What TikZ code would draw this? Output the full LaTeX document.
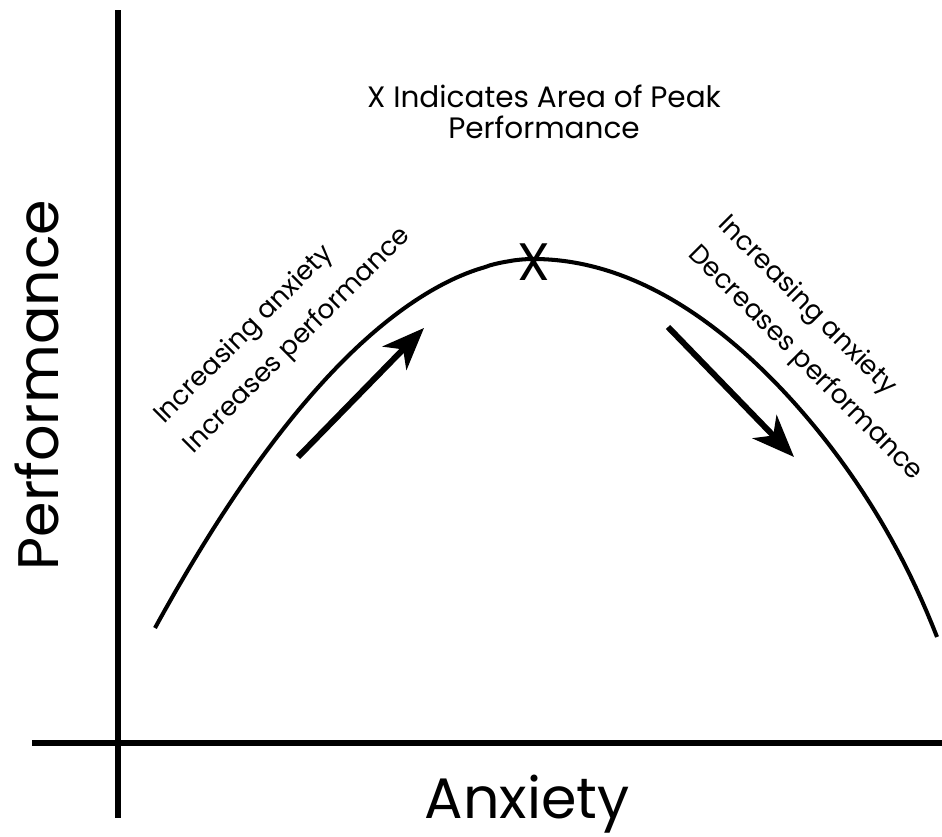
\documentclass[tikz,border=0pt]{standalone}
\usepackage{fontspec}
\setmainfont{Poppins}
\usetikzlibrary{arrows.meta,positioning}
\tikzset{
  axis/.style      = {line width=3.1pt},
  curve/.style     = {line width=2.3pt},
  trend/.style     = {->, line width=3.4pt},
  slope/.style     = {font=\fontsize{15}{23.8}\selectfont, align=left, inner sep=0pt},
  heading/.style   = {font=\fontsize{16.8}{17.6}\selectfont, align=center, inner sep=0pt},
  axis name/.style = {font=\fontsize{32.5}{36}\selectfont, inner sep=0pt, anchor=base},
  peak/.style      = {font=\fontsize{30}{36}\selectfont, inner sep=0pt}
}

\begin{document}
\begin{tikzpicture}[x=0.02cm, y=0.02cm,
  >={Stealth[length=24pt, width=19pt, inset=7pt]}]
\useasboundingbox (0,0) rectangle (942,837);

% ejes
\coordinate (ytop) at (118,827);
\coordinate (ybot) at (118,19);
\coordinate (xleft) at (32,94);
\coordinate (xright) at (942,94);
\draw[axis] (ybot) -- (ytop);
\draw[axis] (xleft) -- (xright);

% curva
\draw[curve] plot[domain=155:533, samples=80]
    (\x, {578 - 369*((533.01-\x)/378)^1.87})
  -- plot[domain=533:937, samples=80]
    (\x, {578 - 343*((\x-533)/404)^2 - 35*((\x-533)/404)^10});
\node[peak] (top) at (534,575) {X};

% flechas
\coordinate (rise0) at (298,380);
\coordinate (rise1) at (424,509);
\coordinate (fall0) at (668,510);
\coordinate (fall1) at (794,380);
\draw[trend] (rise0) -- (rise1);
\draw[trend] (fall0) -- (fall1);

% textos
\node[heading] (title) at (544,725) {X Indicates Area of Peak\\Performance};
\node[slope, rotate=45] (risetext) at (283,511) {Increasing anxiety\\Increases performance};
\node[slope, rotate=-45] (falltext) at (820,488) {Increasing anxiety\\Decreases performance};
\node[axis name, rotate=90] (ylabel) at (58,452) {Performance};
\node[axis name] (xlabel) at (527,18) {Anxiety};
\end{tikzpicture}
\end{document}
